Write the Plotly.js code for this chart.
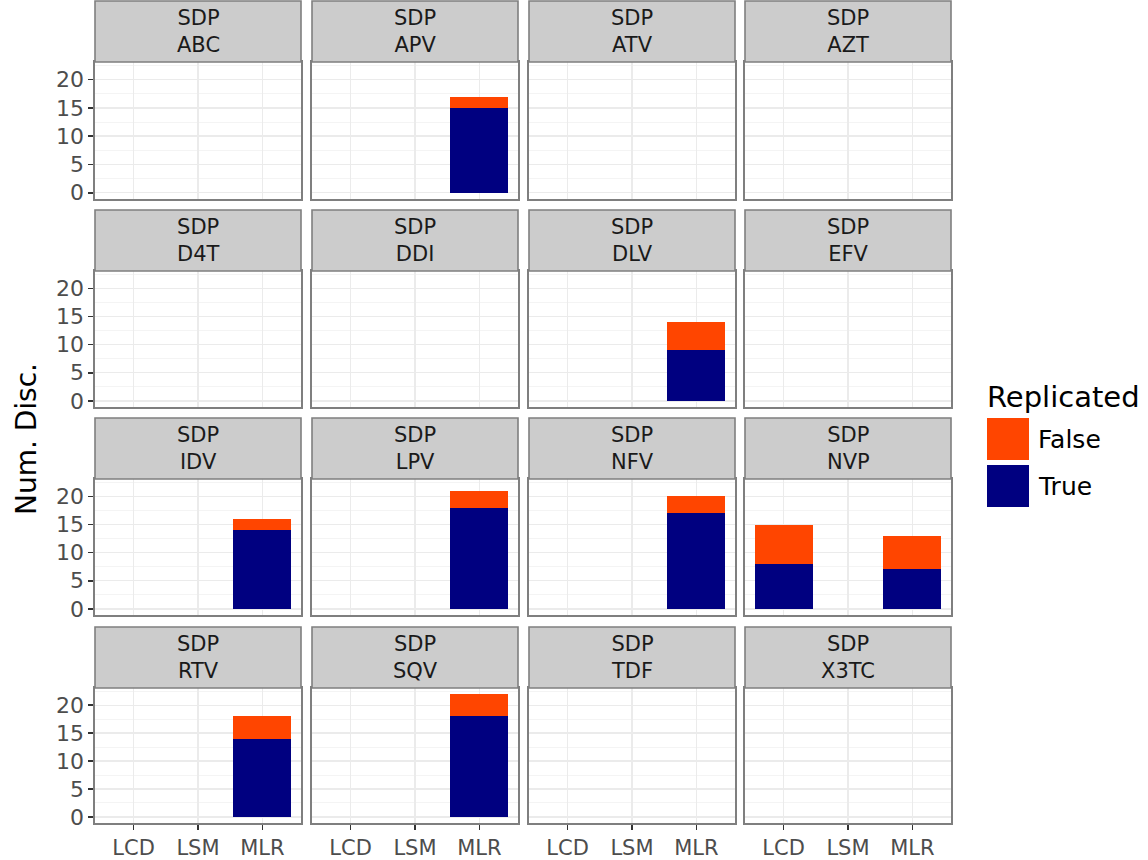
<!DOCTYPE html>
<html>
<head>
<meta charset="utf-8">
<script src="https://cdn.plot.ly/plotly-3.0.1.min.js"></script>
<style>html,body{margin:0;padding:0;background:#fff;}#chart{width:1148px;height:860px;}</style>
</head>
<body>
<div id="chart"></div>
<script>
// ---- data ----
const drugs = ['ABC','APV','ATV','AZT','D4T','DDI','DLV','EFV','IDV','LPV','NFV','NVP','RTV','SQV','TDF','X3TC'];
const stripPrefix = 'SDP';
const methods = ['LCD','LSM','MLR'];
// counts per drug for [LCD, LSM, MLR]
const trueCounts = [
  [0,0,0],[0,0,15],[0,0,0],[0,0,0],
  [0,0,0],[0,0,0],[0,0,9],[0,0,0],
  [0,0,14],[0,0,18],[0,0,17],[8,0,7],
  [0,0,14],[0,0,18],[0,0,0],[0,0,0]
];
const falseCounts = [
  [0,0,0],[0,0,2],[0,0,0],[0,0,0],
  [0,0,0],[0,0,0],[0,0,5],[0,0,0],
  [0,0,2],[0,0,3],[0,0,3],[7,0,6],
  [0,0,4],[0,0,4],[0,0,0],[0,0,0]
];
const seriesNames = ['False','True'];
const seriesColors = {False:'#FF4500', True:'#000080'};
const yTickVals = [0,5,10,15,20];
const yTitle = 'Num. Disc.';
const legendTitle = 'Replicated';

// ---- layout geometry (pixels) ----
const W = 1148, H = 860;
const colLeft = [95, 312, 529, 745];
const panelW = 206;
const plotTop = [62, 271, 479, 688];
const plotBot = [199, 407, 615, 823];
const stripH = 61;
const px = v => v / W;
const py = v => 1 - v / H;

const traces = [];
const layout = {
  width: W, height: H,
  margin: {l:0, r:0, t:0, b:0},
  paper_bgcolor: '#ffffff',
  plot_bgcolor: '#ffffff',
  barmode: 'stack',
  showlegend: false,
  font: {family: 'DejaVu Sans', color: '#4d4d4d'},
  shapes: [],
  annotations: []
};

drugs.forEach((d, i) => {
  const r = Math.floor(i / 4), c = i % 4;
  const n = i + 1;
  const xa = 'x' + (n === 1 ? '' : n), ya = 'y' + (n === 1 ? '' : n);
  const xk = 'xaxis' + (n === 1 ? '' : n), yk = 'yaxis' + (n === 1 ? '' : n);
  layout[xk] = {
    domain: [px(colLeft[c]), px(colLeft[c] + panelW)],
    anchor: ya,
    type: 'category',
    categoryorder: 'array',
    categoryarray: methods,
    range: [-0.6, 2.6],
    showgrid: true, gridcolor: '#ebebeb', gridwidth: 1.4,
    zeroline: false,
    showline: true, mirror: true, linecolor: '#7f7f7f', linewidth: 1.6,
    ticks: r === 3 ? 'outside' : '', ticklen: 5, tickwidth: 1.6, tickcolor: '#333333',
    showticklabels: r === 3,
    tickfont: {size: 21, color: '#4d4d4d', family: 'DejaVu Sans'},
    fixedrange: true
  };
  layout[yk] = {
    domain: [py(plotBot[r]), py(plotTop[r])],
    anchor: xa,
    range: [-1.1, 23.1],
    tickvals: yTickVals,
    showgrid: true, gridcolor: '#ebebeb', gridwidth: 1.4,
    minor: {dtick: 2.5, tick0: 0, showgrid: true, gridcolor: '#f4f4f4', gridwidth: 1, ticks: ''},
    zeroline: false,
    showline: true, mirror: true, linecolor: '#7f7f7f', linewidth: 1.6,
    ticks: c === 0 ? 'outside' : '', ticklen: 5, tickwidth: 1.6, tickcolor: '#333333',
    showticklabels: c === 0,
    tickfont: {size: 22, color: '#4d4d4d', family: 'DejaVu Sans'},
    fixedrange: true
  };
  // True (bottom), False (top)
  traces.push({
    type: 'bar', x: methods, y: trueCounts[i], xaxis: xa, yaxis: ya,
    name: 'True', marker: {color: seriesColors.True, line: {width: 0}}, width: 0.9,
    hoverinfo: 'x+y+name'
  });
  traces.push({
    type: 'bar', x: methods, y: falseCounts[i], xaxis: xa, yaxis: ya,
    name: 'False', marker: {color: seriesColors.False, line: {width: 0}}, width: 0.9,
    hoverinfo: 'x+y+name'
  });
  // strip
  const sTop = plotTop[r] - stripH;
  layout.shapes.push({
    type: 'rect', xref: 'paper', yref: 'paper',
    x0: px(colLeft[c]), x1: px(colLeft[c] + panelW),
    y0: py(plotTop[r]), y1: py(sTop),
    fillcolor: '#cccccc', line: {color: '#7f7f7f', width: 1.6}, layer: 'above'
  });
  const cx = px(colLeft[c] + panelW / 2);
  const cy = sTop + stripH / 2;
  layout.annotations.push({
    xref: 'paper', yref: 'paper', x: cx, y: py(cy), text: stripPrefix + '<br>' + d,
    showarrow: false, xanchor: 'center', yanchor: 'middle', align: 'center',
    font: {size: 21, color: '#1a1a1a', family: 'DejaVu Sans'}
  });
});

// y-axis title
layout.annotations.push({
  xref: 'paper', yref: 'paper', x: px(26), y: py(439), text: yTitle,
  showarrow: false, textangle: -90, xanchor: 'center', yanchor: 'middle',
  font: {size: 28, color: '#000000', family: 'DejaVu Sans'}
});

// legend (manual)
layout.annotations.push({
  xref: 'paper', yref: 'paper', x: px(985), y: py(397), text: legendTitle,
  showarrow: false, xanchor: 'left', yanchor: 'middle',
  font: {size: 29, color: '#000000', family: 'DejaVu Sans'}
});
const keyTops = [418, 465];
seriesNames.forEach((s, k) => {
  layout.shapes.push({
    type: 'rect', xref: 'paper', yref: 'paper',
    x0: px(987), x1: px(1029), y0: py(keyTops[k] + 42), y1: py(keyTops[k]),
    fillcolor: seriesColors[s], line: {width: 0}
  });
  layout.annotations.push({
    xref: 'paper', yref: 'paper', x: px(1036), y: py(keyTops[k] + 21), text: s,
    showarrow: false, xanchor: 'left', yanchor: 'middle',
    font: {size: 25, color: '#000000', family: 'DejaVu Sans'}
  });
});

Plotly.newPlot('chart', traces, layout, {displayModeBar: false, staticPlot: true});
</script>
</body>
</html>
